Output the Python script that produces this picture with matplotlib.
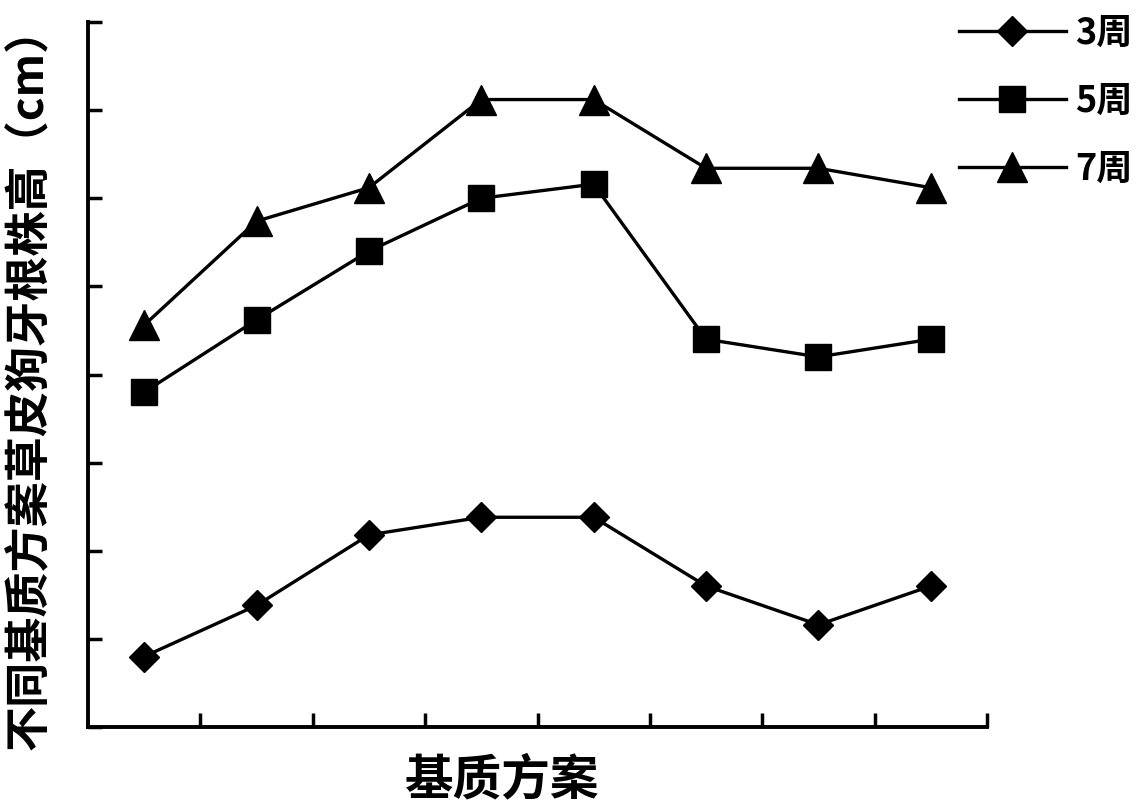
import matplotlib.pyplot as plt
import numpy as np

plt.rcParams['font.family'] = ['Noto Sans CJK SC', 'DejaVu Sans']
plt.rcParams['font.weight'] = 'bold'

## données (unités arbitraires, axe sans graduations chiffrées)
schemes = [1, 2, 3, 4, 5, 6, 7, 8]
week3 = [4.0, 6.9, 10.9, 11.9, 11.9, 8.0, 5.8, 8.0]
week5 = [19.0, 23.1, 27.0, 30.0, 30.8, 22.0, 21.0, 22.0]
week7 = [22.8, 28.7, 30.6, 35.6, 35.6, 31.7, 31.7, 30.6]
labels = ['3周', '5周', '7周']

fig = plt.figure(figsize=(11.42, 8.07), dpi=100)
ax = fig.add_axes([88/1142, 80/807, 899/1142, 705/807])

ax.plot(schemes, week3, color='black', lw=2.4, marker='D', ms=15, label=labels[0])
ax.plot(schemes, week5, color='black', lw=2.4, marker='s', ms=19, label=labels[1])
ax.plot(schemes, week7, color='black', lw=2.4, marker='^', ms=21, label=labels[2])

ax.set_xlim(0.5, 8.5)
ax.set_ylim(0, 40)
ax.set_xticks(np.arange(1.5, 9.0, 1.0))
ax.set_yticks(np.arange(0, 41, 5))
ax.tick_params(direction='in', length=10, width=2.5, labelbottom=False, labelleft=False)
## pas de cadre haut/droit
ax.spines['top'].set_visible(False)
ax.spines['right'].set_visible(False)
ax.spines['left'].set_linewidth(2.8)
ax.spines['bottom'].set_linewidth(2.8)

fig.text(502/1142, 27/807, '基质方案', fontsize=35, fontweight='bold',
         ha='center', va='center')
fig.text(0.026, 0.532, '不同基质方案草皮狗牙根株高（cm）', rotation=90, fontsize=32.5,
         fontweight='bold', ha='center', va='center')

fig.legend(loc='upper left', bbox_to_anchor=(952/1142, 0.991), frameon=False,
           borderaxespad=0, borderpad=0.2,
           handlelength=2.95, labelspacing=0.86, handletextpad=0.25,
           prop={'weight': 'bold', 'size': 26})

fig.savefig('out.png', dpi=100)
